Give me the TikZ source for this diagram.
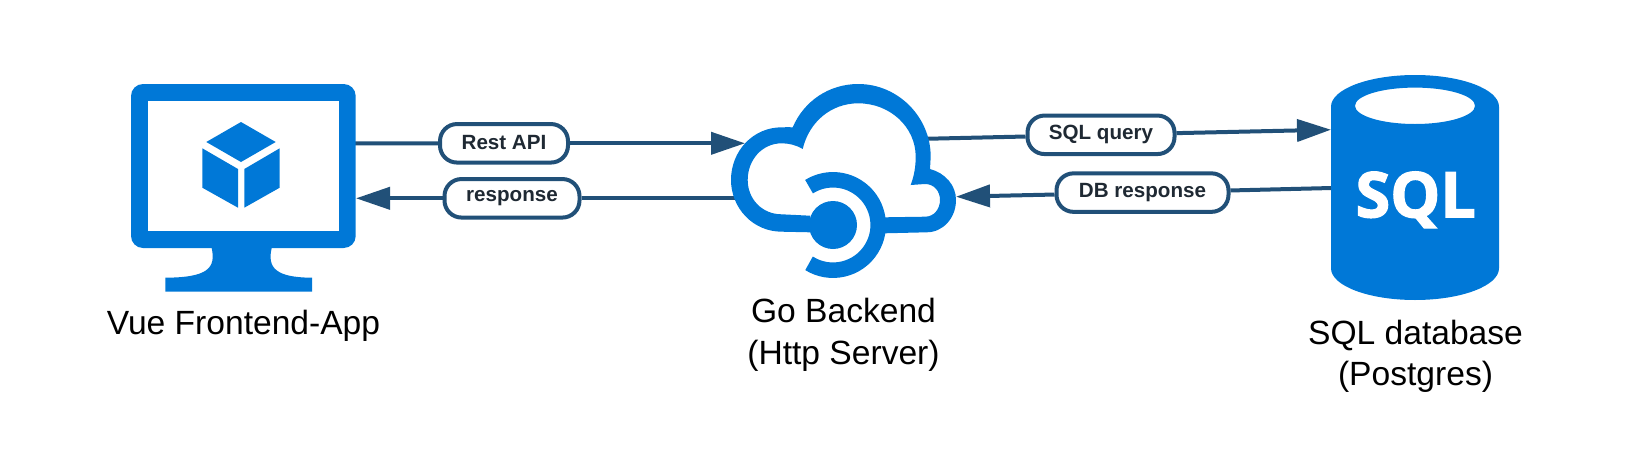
\documentclass[tikz,border=0pt]{standalone}
\usepackage{fontspec}
\setmainfont{Liberation Sans}
\newfontfamily\sqlfont[BoldFeatures={FakeBold=2}]{Open Sans}
\usetikzlibrary{arrows.meta}
\definecolor{iconblue}{HTML}{0078D7}
\definecolor{linkblue}{HTML}{215078}
\definecolor{pilltext}{HTML}{1F2933}

\begin{document}
\begin{tikzpicture}[x=1pt,y=-1pt,
    link/.style={draw=linkblue,line width=4pt},
    linkto/.style={link,-{Triangle[length=34pt,width=22pt]}},
    pill/.style={draw=linkblue,line width=4pt,fill=white,rounded corners=17pt,
        minimum height=38.5pt,inner sep=0pt,text=pilltext,
        font=\fontsize{20.6}{24}\selectfont\bfseries},
    caption/.style={align=center,inner sep=0pt,font=\fontsize{33.6}{41.5}\selectfont}]

\useasboundingbox (0,0) rectangle (1631,458);

% Anchors for the connectors
\coordinate (frontOut) at (350,143.5);
\coordinate (frontIn) at (356,198.3);
\coordinate (backIn) at (745,143.3);
\coordinate (backOut) at (740,198.3);
\coordinate (backSqlOut) at (925,138.8);
\coordinate (backSqlIn) at (956,196.7);
\coordinate (dbIn) at (1331,129.7);
\coordinate (dbOut) at (1336,187.9);

% Labels on the connectors
\node[pill,minimum width=128pt] (restApi) at (504,143.3) {\raisebox{1pt}{Rest API}};
\node[pill,minimum width=135pt] (response) at (512,198.3) {\raisebox{1pt}{response}};
\node[pill,minimum width=147pt] (sqlQuery) at (1101,134.8) {\raisebox{1pt}{SQL query}};
\node[pill,minimum width=172pt] (dbResponse) at (1142.5,192.6) {\raisebox{1pt}{DB response}};

% Connectors
\draw[link] (frontOut) -- (restApi);
\draw[linkto] (restApi) -- (backIn);
\draw[link] (backOut) -- (response);
\draw[linkto] (response) -- (frontIn);
\draw[link] (backSqlOut) -- (sqlQuery);
\draw[linkto] (sqlQuery) -- (dbIn);
\draw[link] (dbOut) -- (dbResponse);
\draw[linkto] (dbResponse) -- (backSqlIn);

% Monitor
\fill[iconblue] (211.7,240) -- (211.7,248)
    .. controls (216,268) and (208,277.5) .. (165.3,277.7)
    -- (165.3,291.7) -- (312,291.7) -- (312,277.7)
    .. controls (276,277.5) and (267,268) .. (271.7,248)
    -- (271.7,240) -- cycle;
\fill[iconblue,rounded corners=12pt] (131,84) rectangle (355.7,248);
\fill[white] (148,101) rectangle (338.7,230.7);

% Cube
\fill[iconblue] (241,122) -- (275.7,142) -- (241,162) -- (206.3,142) -- cycle;
\fill[iconblue] (202.3,148.3) -- (238,169) -- (238,207.7) -- (202.3,187.7) -- cycle;
\fill[iconblue] (244.3,169) -- (279.7,148.3) -- (279.7,187.7) -- (244.3,207.7) -- cycle;

% Cloud
\fill[iconblue] (792.7,127.3)
    .. controls (804,101) and (829,84) .. (858.3,84)
    .. controls (898,84) and (930.7,117) .. (930.7,156.7)
    -- (930,169)
    .. controls (945,173) and (956,185) .. (956,200)
    .. controls (956,218) and (943,232.3) .. (926.7,232.3)
    -- (885,233.3) -- (885,217.3) -- (925,216.7)
    .. controls (934,216.7) and (940,209) .. (940,200)
    .. controls (940,191) and (934,184) .. (925,184)
    -- (910.7,185)
    .. controls (914,176) and (915.7,167) .. (915.7,156.7)
    .. controls (915.7,127) and (890,103.3) .. (858.3,103.3)
    .. controls (831,103.3) and (809,122) .. (802.7,149)
    .. controls (796,145) and (789,143.3) .. (781.7,143.3)
    .. controls (762,143.3) and (747.7,160) .. (747.7,180)
    .. controls (747.7,199) and (762,214.3) .. (781.7,214.3)
    -- (810,215.7) -- (810,232.3) -- (781.7,231.7)
    .. controls (753,231.7) and (731,208) .. (731,180)
    .. controls (731,151) and (753,127.3) .. (781.7,127.3)
    .. controls (786,127.3) and (789,127) .. (792.7,127.3)
    -- cycle;
\fill[iconblue] (833,225) circle[radius=24];
\draw[iconblue,line width=15.5pt] (833,225) ++(122:45.2)
    arc[start angle=122,end angle=-122,radius=45.2];

% Database
\fill[iconblue,even odd rule] (1331,106.7)
    arc[start angle=180,end angle=360,x radius=84,y radius=31.7]
    -- (1499,268.3)
    arc[start angle=0,end angle=180,x radius=84,y radius=31.7]
    -- cycle
    (1415,105.8) ellipse[x radius=60,y radius=18.2];
\node[text=white,inner sep=0pt,anchor=base,font=\fontsize{63}{70}\sqlfont\bfseries]
    (sqlMark) at (1415.7,217.3) {SQL};

% Captions
\node[caption,anchor=base] (frontLabel) at (243.5,334) {Vue Frontend-App};
\node[caption,anchor=base] (backLabel) at (843.5,364) {Go Backend\\(Http Server)};
\node[caption,anchor=base] (dbLabel) at (1415.5,385.5) {SQL database\\(Postgres)};

\end{tikzpicture}
\end{document}
